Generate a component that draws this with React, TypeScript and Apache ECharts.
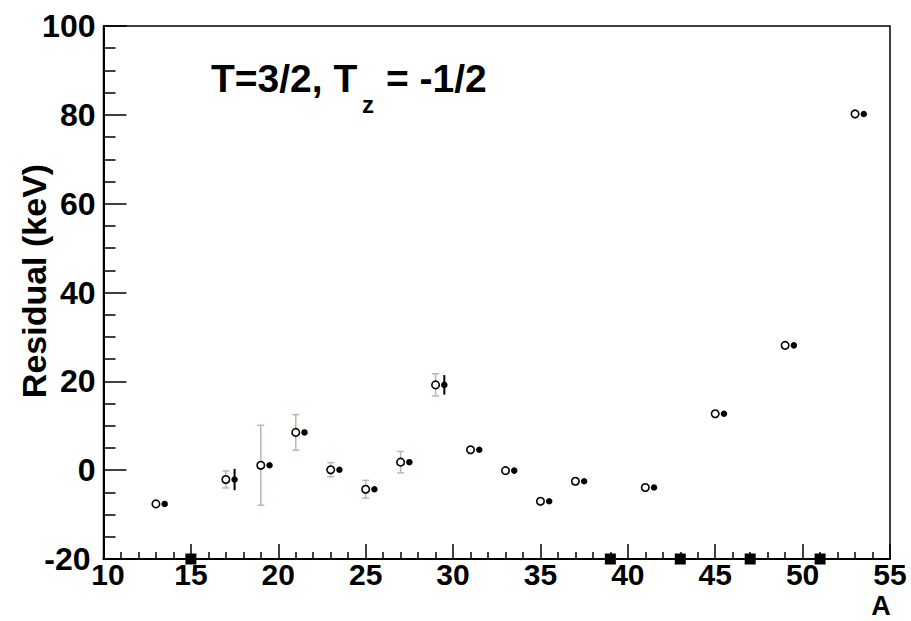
import React, { useEffect, useRef } from "react";
import * as echarts from "echarts";

// Mass number A for the open-circle points
const aOpen = [13, 17, 19, 21, 23, 25, 27, 29, 31, 33, 35, 37, 41, 45, 49, 53];
const residualOpen = [-7.6, -2.1, 1.1, 8.5, 0.1, -4.3, 1.8, 19.2, 4.6, -0.1, -7.0, -2.5, -3.9, 12.7, 28.1, 80.2];
const errOpen = [0, 1.9, 9.0, 4.0, 1.6, 2.0, 2.4, 2.5, 0, 0, 0, 0, 0, 0, 0, 0];

// Filled-circle points (shifted by half a unit in A)
const aFilled = [13.5, 17.5, 19.5, 21.5, 23.5, 25.5, 27.5, 29.5, 31.5, 33.5, 35.5, 37.5, 41.5, 45.5, 49.5, 53.5];
const residualFilled = [-7.6, -2.1, 1.1, 8.5, 0.1, -4.3, 1.8, 19.2, 4.6, -0.1, -7.0, -2.5, -3.9, 12.7, 28.1, 80.2];
const errFilled = [0, 2.4, 0, 0, 0, 0, 0, 2.2, 0, 0, 0, 0, 0, 0, 0, 0];

// Markers on the lower axis
const aMarked = [15, 39, 43, 47, 51];
const markedValue = [-20, -20, -20, -20, -20];

const xTicks = { min: 10, max: 55, interval: 5 };
const yTicks = { min: -20, max: 100, interval: 20 };

const FONT = "'Liberation Sans', Arial, Helvetica, sans-serif";

function errorBarRenderer(color: string, capHalf: number, width: number) {
  return (params: any, api: any) => {
    const x = api.value(0);
    const lo = api.value(1);
    const hi = api.value(2);
    const p1 = api.coord([x, lo]);
    const p2 = api.coord([x, hi]);
    const style = { stroke: color, lineWidth: width };
    const children: any[] = [
      { type: "line", shape: { x1: p1[0], y1: p1[1], x2: p2[0], y2: p2[1] }, style },
    ];
    if (capHalf > 0) {
      children.push(
        { type: "line", shape: { x1: p1[0] - capHalf, y1: p1[1], x2: p1[0] + capHalf, y2: p1[1] }, style },
        { type: "line", shape: { x1: p2[0] - capHalf, y1: p2[1], x2: p2[0] + capHalf, y2: p2[1] }, style }
      );
    }
    return { type: "group", children };
  };
}

export default function App() {
  const ref = useRef<HTMLDivElement>(null);

  useEffect(() => {
    if (!ref.current) return;
    const chart = echarts.init(ref.current, undefined, { renderer: "svg" });

    const openPts = aOpen.map((a, i) => [a, residualOpen[i]]);
    const filledPts = aFilled.map((a, i) => [a, residualFilled[i]]);
    const openErr = aOpen
      .map((a, i) => [a, residualOpen[i] - errOpen[i], residualOpen[i] + errOpen[i], errOpen[i]])
      .filter((d) => d[3] > 0);
    const filledErr = aFilled
      .map((a, i) => [a, residualFilled[i] - errFilled[i], residualFilled[i] + errFilled[i], errFilled[i]])
      .filter((d) => d[3] > 0);
    const marked = aMarked.map((a, i) => [a, markedValue[i]]);

    chart.setOption({
      animation: false,
      backgroundColor: "#fff",
      grid: {
        left: 103.5,
        right: 21,
        top: 26,
        bottom: 62,
        show: true,
        borderColor: "#000",
        borderWidth: 1.5,
        backgroundColor: "transparent",
      },
      xAxis: {
        type: "value",
        min: xTicks.min,
        max: xTicks.max,
        interval: xTicks.interval,
        axisLine: { show: true, onZero: false, lineStyle: { color: "#000", width: 2 } },
        axisTick: { show: true, inside: true, length: 15, lineStyle: { color: "#000", width: 1.5 } },
        minorTick: { show: true, splitNumber: 5, length: 7, lineStyle: { color: "#000", width: 1.5 } },
        splitLine: { show: false },
        axisLabel: {
          color: "#000",
          fontFamily: FONT,
          fontWeight: "bold",
          fontSize: 30,
          lineHeight: 20,
          margin: 5,
          formatter: (v: number) => (v === xTicks.min ? `{first|${v}}` : `{n|${v}}`),
          rich: {
            first: { fontFamily: FONT, fontWeight: "bold", fontSize: 30, lineHeight: 20, color: "#000", padding: [0, 0, 0, 9] },
            n: { fontFamily: FONT, fontWeight: "bold", fontSize: 30, lineHeight: 20, color: "#000" },
          },
        },
      },
      yAxis: {
        type: "value",
        min: yTicks.min,
        max: yTicks.max,
        interval: yTicks.interval,
        axisLine: { show: true, onZero: false, lineStyle: { color: "#000", width: 2 } },
        axisTick: { show: true, inside: true, length: 23, lineStyle: { color: "#000", width: 1.5 } },
        minorTick: { show: true, splitNumber: 4, length: 12, lineStyle: { color: "#000", width: 1.5 } },
        splitLine: { show: false },
        axisLabel: {
          color: "#000",
          fontFamily: FONT,
          fontWeight: "bold",
          fontSize: 32,
          lineHeight: 18,
          margin: 8,
          formatter: (v: number) => (v === yTicks.min ? `{low|${v}}` : `{n|${v}}`),
          rich: {
            low: { fontFamily: FONT, fontWeight: "bold", fontSize: 32, lineHeight: 18, color: "#000", padding: [0, 5, 0, 0] },
            n: { fontFamily: FONT, fontWeight: "bold", fontSize: 32, lineHeight: 18, color: "#000" },
          },
        },
      },
      graphic: [
        {
          type: "text",
          x: 34,
          y: 281,
          rotation: Math.PI / 2,
          style: {
            text: "Residual (keV)",
            fill: "#000",
            font: `bold 34px ${FONT}`,
            align: "center",
            verticalAlign: "middle",
          },
        },
        {
          type: "text",
          x: 881,
          y: 606,
          style: {
            text: "A",
            fill: "#000",
            font: `bold 27px ${FONT}`,
            lineHeight: 20,
            align: "center",
            verticalAlign: "middle",
          },
        },
        {
          type: "text",
          x: 211,
          y: 78,
          style: {
            text: "T=3/2, T",
            fill: "#000",
            font: `bold 39px ${FONT}`,
            verticalAlign: "middle",
          },
        },
        {
          type: "text",
          x: 362,
          y: 104,
          style: {
            text: "z",
            fill: "#000",
            font: `bold 24px ${FONT}`,
            verticalAlign: "middle",
          },
        },
        {
          type: "text",
          x: 386,
          y: 78,
          style: {
            text: "= -1/2",
            fill: "#000",
            font: `bold 39px ${FONT}`,
            verticalAlign: "middle",
          },
        },
      ],
      series: [
        {
          type: "custom",
          name: "errOpen",
          data: openErr,
          encode: { x: 0, y: [1, 2] },
          renderItem: errorBarRenderer("#c8b2aa", 3.5, 1.5),
          z: 1,
        },
        {
          type: "custom",
          name: "errFilled",
          data: filledErr,
          encode: { x: 0, y: [1, 2] },
          renderItem: errorBarRenderer("#000", 0, 2),
          z: 1,
        },
        {
          type: "scatter",
          name: "open",
          data: openPts,
          symbol: "circle",
          symbolSize: 7.5,
          itemStyle: { color: "#fff", borderColor: "#000", borderWidth: 1.6, opacity: 1 },
          z: 3,
        },
        {
          type: "scatter",
          name: "filled",
          data: filledPts,
          symbol: "circle",
          symbolSize: 6.5,
          itemStyle: { color: "#000", opacity: 1 },
          z: 3,
        },
        {
          type: "scatter",
          name: "marked",
          data: marked,
          symbol: "rect",
          symbolSize: 11,
          clip: false,
          itemStyle: { color: "#000", opacity: 1 },
          z: 4,
        },
      ],
    });

    return () => chart.dispose();
  }, []);

  return <div ref={ref} style={{ width: 911, height: 621, position: "absolute", left: 0, top: 0 }} />;
}
